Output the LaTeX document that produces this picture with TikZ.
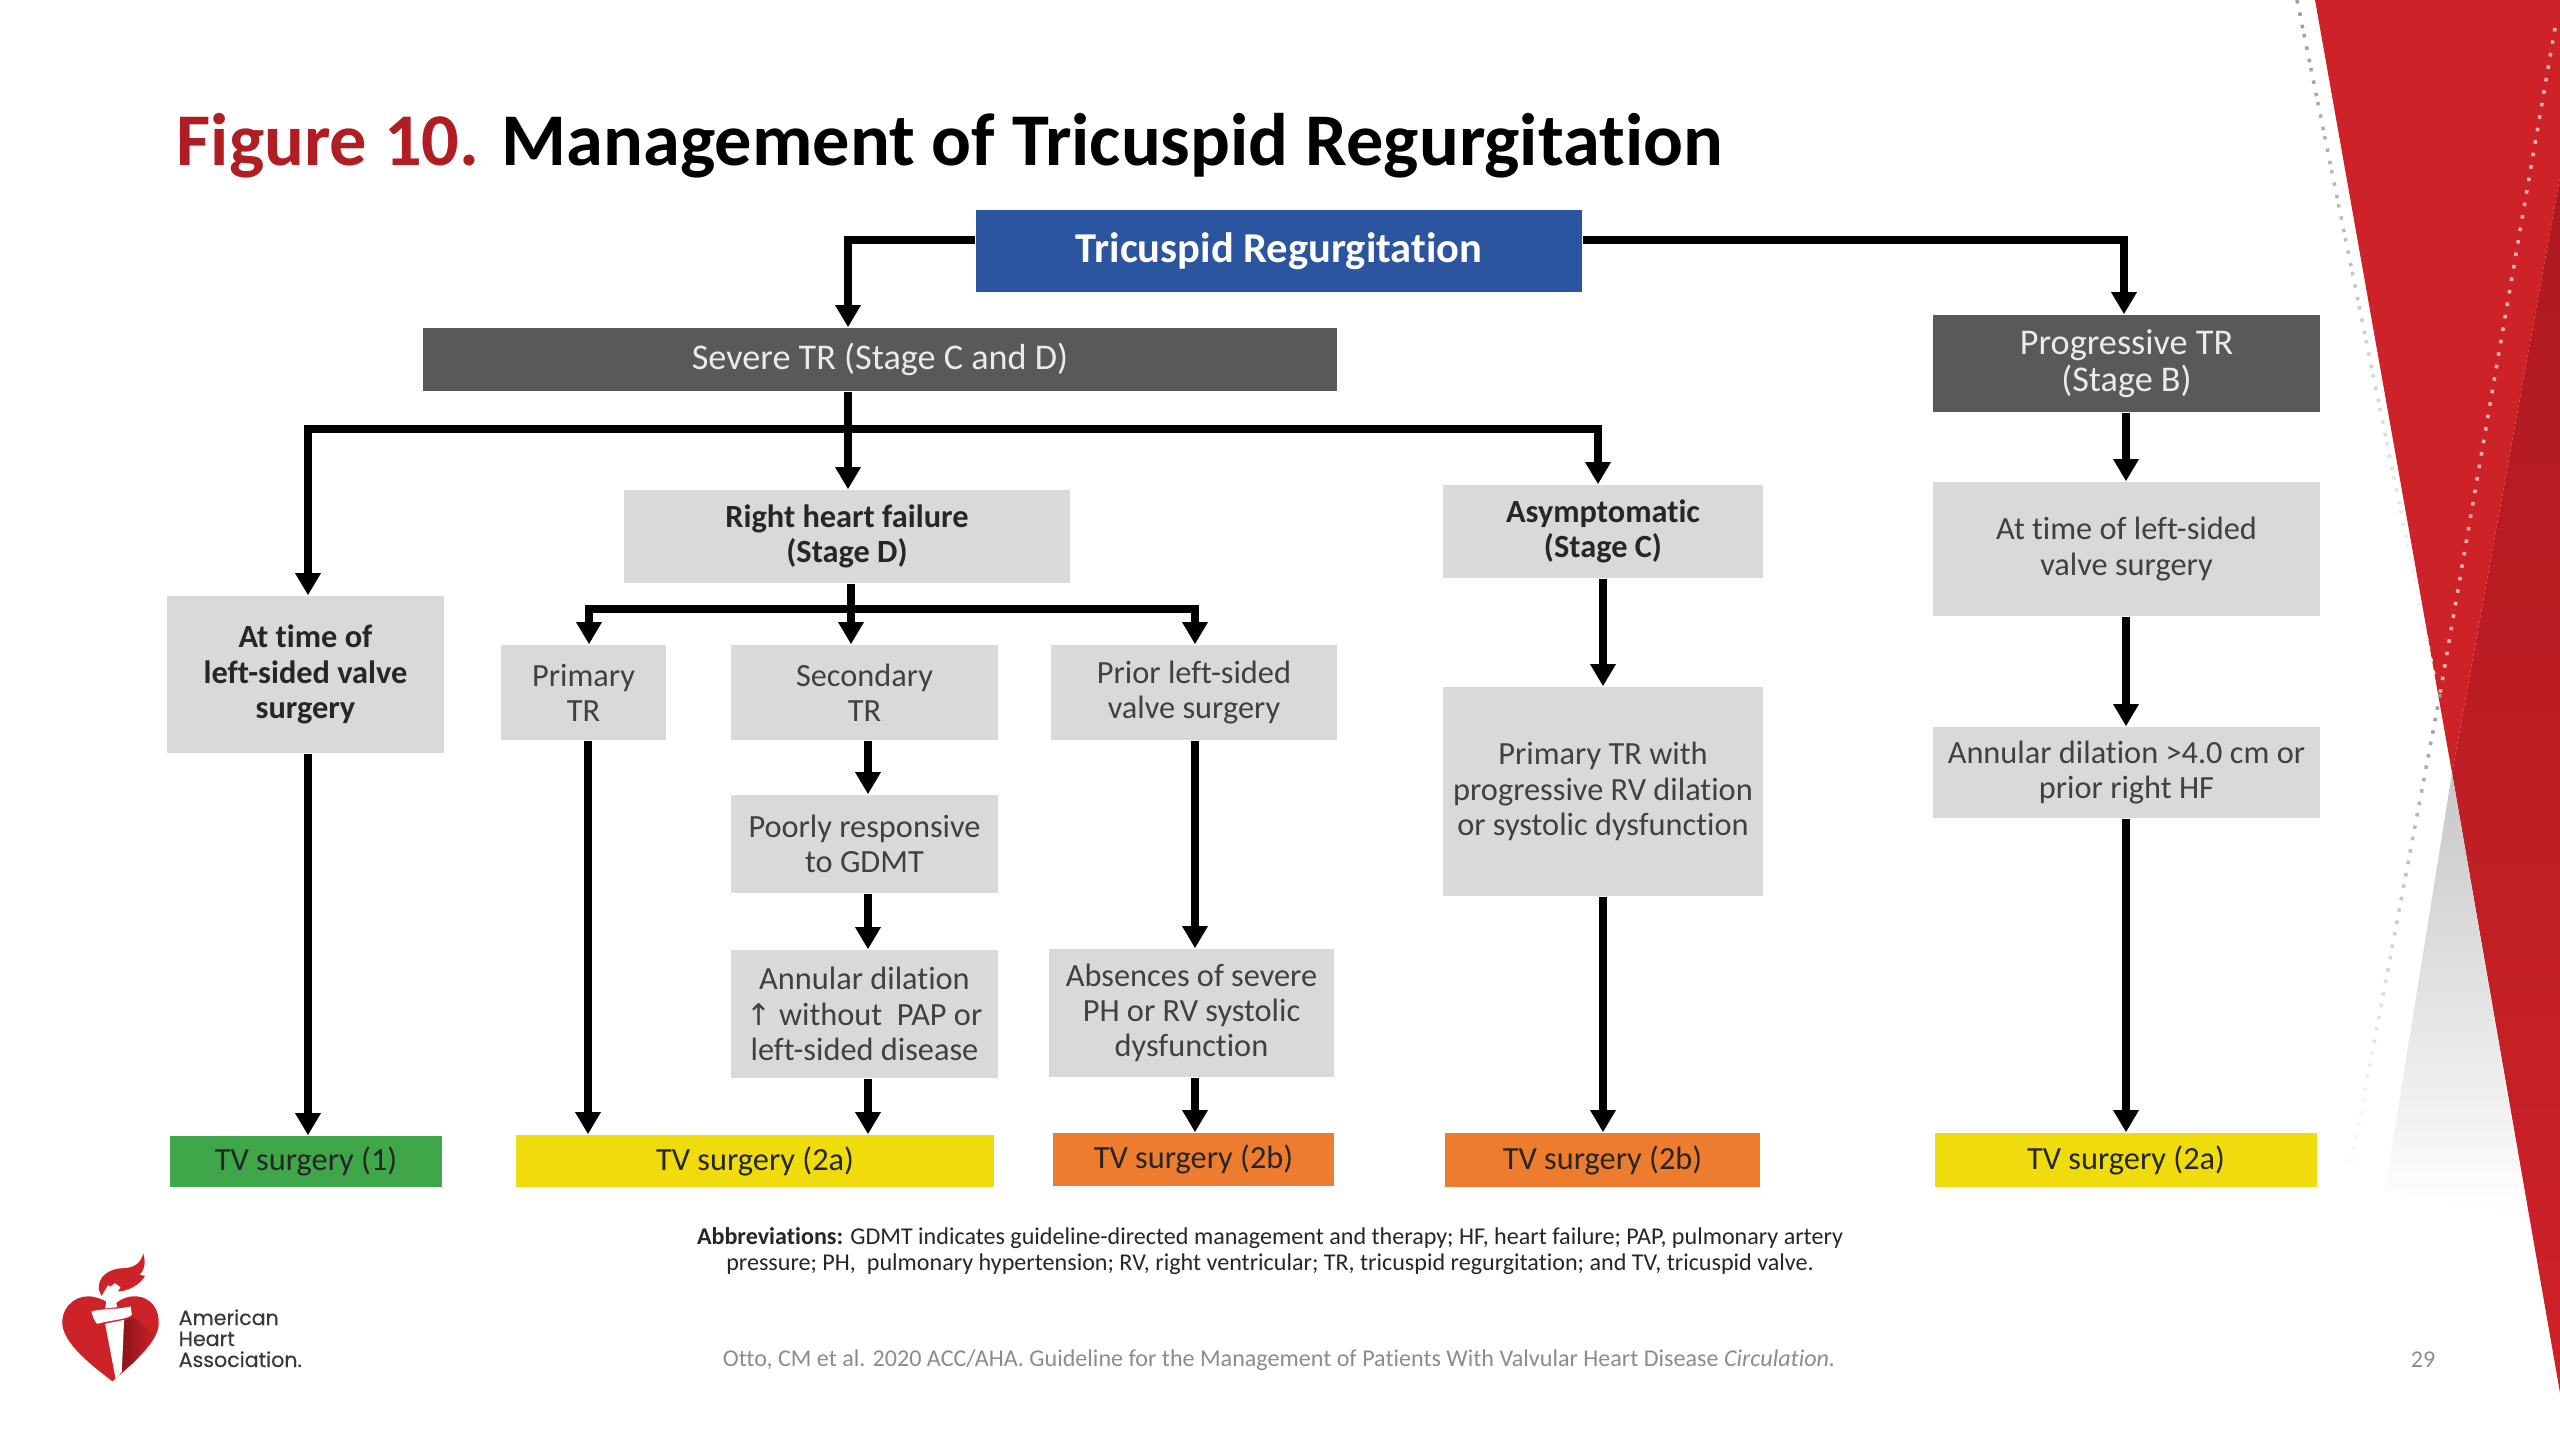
\documentclass[tikz,border=0pt]{standalone}
\usepackage{fontspec}
\setmainfont[Ligatures=NoCommon]{Carlito}
\newfontfamily\logofont[FakeBold=0.3]{Poppins}
\newfontfamily\symfont{DejaVu Sans}
\usetikzlibrary{arrows.meta,shadings}
\definecolor{boxgray}{HTML}{D9D9D9}
\definecolor{boxdark}{HTML}{595959}
\definecolor{boxblue}{HTML}{2B559F}
\definecolor{tvgreen}{HTML}{3FA649}
\definecolor{tvyellow}{HTML}{F0DC0C}
\definecolor{tvorange}{HTML}{EE7C2E}
\definecolor{ahared}{HTML}{CE2229}
\definecolor{ahadark}{HTML}{AE1A1F}
\definecolor{titlered}{HTML}{B01E23}
\definecolor{bodytext}{HTML}{404040}
\tikzset{
  boxbase/.style={inner sep=0pt,align=center,font=\fontsize{9.2}{10}\selectfont},
  gbox/.style={boxbase,fill=boxgray,text=bodytext},
  gbold/.style={boxbase,fill=boxgray,text=black!85,font=\fontsize{9.2}{10}\selectfont\bfseries},
  dbox/.style={boxbase,fill=boxdark,text=white!92!black,font=\fontsize{10.3}{10.7}\selectfont},
  tvbox/.style={boxbase,text=black!85},
  conn/.style={line width=2.1pt,draw=black,-{Triangle[width=6.9pt,length=6.3pt]}},
  trunk/.style={line width=2.1pt,draw=black},
}
\newcommand{\bx}[7]{\node[#1,minimum width={(#5-#3)*0.01cm},minimum height={(#6-#4)*0.01cm}] (#2) at ({(#3+#5)/2},{(#4+#6)/2}) {#7};}
\newcommand{\nudge}[1]{\raisebox{-0.45pt}{#1}}
\begin{document}
\begin{tikzpicture}[x=0.01cm,y=-0.01cm]
\useasboundingbox (0,0) rectangle (2560,1440);
\fill[white] (0,0) rectangle (2560,1440);
% decoration
\fill[ahared] (2315,0)--(2560,0)--(2560,177)--(2452,773)--cycle;
\shade[top color=ahadark,middle color=ahadark,bottom color=ahared] (2560,177)--(2452,773)--(2560,1393)--cycle;
\shade[top color=black!22,bottom color=white] (2452,773)--(2385,1190)--(2528,1215)--cycle;
\foreach \t in {0,1,...,19}{
  \pgfmathsetmacro{\a}{\t/20}\pgfmathsetmacro{\b}{(\t+1)/20}
  \pgfmathsetmacro{\k}{max(4,38-2.0*\t)}
  \draw[line width=1pt,dash pattern=on 1pt off 2.6pt,draw=black!\k!white] ({2297+138*\a},{680*\a}) -- ({2297+138*\b},{680*\b});
  \pgfmathsetmacro{\m}{max(3,38-2.0*\t)}
  \draw[line width=1pt,dash pattern=on 1pt off 2.6pt,draw=black!\m!white] ({2440-90*\a},{694+476*\a}) -- ({2440-90*\b},{694+476*\b});
}
\draw[line width=1pt,dash pattern=on 1pt off 2.6pt,draw=white!65!ahared] (2555,28) -- (2440,694);
% logo
\begin{scope}[shift={(0,1200)},x=0.003333cm,y=-0.003333cm]
\fill[ahared] (338,545) .. controls (280,500) and (185,430) .. (187,365) .. controls (190,310) and (240,280) .. (285,292) .. controls (310,298) and (330,310) .. (337,322) .. controls (350,305) and (380,285) .. (415,290) .. controls (455,295) and (480,330) .. (477,375) .. controls (472,430) and (400,490) .. (338,545) -- cycle;
\shade[left color=ahadark!80!black,right color=ahared] (368,365)--(400,352)--(468,405)--(400,490)--(368,515)--cycle;
\fill[ahared] (430,160) .. controls (442,195) and (428,215) .. (420,225) -- (436,228) .. controls (420,255) and (385,275) .. (350,275) -- (325,255) -- (305,288) -- (297,270) .. controls (292,230) and (330,205) .. (370,205) .. controls (400,205) and (425,190) .. (430,160) -- cycle;
\fill[white] (345,250) -- (362,262) -- (345,290) -- (352,322) -- (316,326) -- (322,290) -- (330,262) -- cycle;
\fill[white] (275,335) .. controls (310,325) and (350,330) .. (393,320) -- (396,345) .. controls (385,358) and (340,360) .. (292,372) .. controls (283,362) and (278,350) .. (275,335) -- cycle;
\fill[white] (316,372) -- (373,360) -- (366,515) -- (348,540) -- cycle;
\end{scope}
\node[anchor=base west,inner sep=0pt,font=\logofont\fontsize{5.85}{6}\selectfont,text=black!78] (lgA) at (178,1325) {American};
\node[anchor=base west,inner sep=0pt,font=\logofont\fontsize{5.85}{6}\selectfont,text=black!78] (lgB) at (178,1346) {Heart};
\node[anchor=base west,inner sep=0pt,font=\logofont\fontsize{5.85}{6}\selectfont,text=black!78] (lgC) at (178,1367) {Association.};
% title
\node[anchor=base west,inner sep=0pt,font=\fontsize{21.15}{22}\selectfont\bfseries] (title) at (176,166) {\textcolor{titlered}{Figure 10.} Management of Tricuspid Regurgitation};
% boxes
\bx{boxbase,fill=boxblue,text=white,font=\fontsize{12.1}{13}\selectfont\bfseries}{tr}{976}{210}{1582}{292}{\nudge{Tricuspid Regurgitation}}
\bx{dbox}{sev}{423}{328}{1337}{391}{\nudge{Severe TR (Stage C and D)}}
\bx{dbox}{prog}{1933}{315}{2320}{412}{Progressive TR\\(Stage B)}
\bx{gbold}{rhf}{624}{490}{1070}{583}{Right heart failure\\(Stage D)}
\bx{gbold}{asym}{1443}{485}{1763}{578}{Asymptomatic\\(Stage C)}
\bx{gbold}{atl}{167}{596}{444}{753}{At time of\\left-sided valve\\surgery}
\bx{gbox}{pri}{501}{645}{666}{740}{Primary\\TR}
\bx{gbox}{sec}{731}{645}{998}{740}{Secondary\\TR}
\bx{gbox}{prv}{1051}{645}{1337}{740}{Prior left-sided\\valve surgery}
\bx{gbox}{poor}{731}{795}{998}{893}{Poorly responsive\\to GDMT}
\bx{gbox}{ann}{731}{950}{998}{1078}{Annular dilation\\{\symfont\fontsize{8.5}{9}\selectfont↑} without\ \ PAP or\\left-sided disease}
\bx{gbox}{abs}{1049}{949}{1334}{1077}{Absences of severe\\PH or RV systolic\\dysfunction}
\bx{gbox}{ptr}{1443}{687}{1763}{896}{Primary TR with\\progressive RV dilation\\or systolic dysfunction}
\bx{gbox}{ltm}{1933}{482}{2320}{616}{At time of left-sided\\valve surgery}
\bx{gbox}{ad4}{1933}{727}{2320}{818}{Annular dilation >4.0 cm or\\prior right HF}
\bx{tvbox,fill=tvgreen}{tva}{170}{1136}{442}{1187}{\nudge{TV surgery (1)}}
\bx{tvbox,fill=tvyellow}{tvb}{516}{1135}{994}{1187}{\nudge{TV surgery (2a)}}
\bx{tvbox,fill=tvorange}{tvc}{1053}{1133}{1334}{1186}{\nudge{TV surgery (2b)}}
\bx{tvbox,fill=tvorange}{tvd}{1445}{1133}{1760}{1187}{\nudge{TV surgery (2b)}}
\bx{tvbox,fill=tvyellow}{tve}{1935}{1133}{2317}{1187}{\nudge{TV surgery (2a)}}
% connector columns and junctions
\coordinate (xA) at (308,0);
\coordinate (xB) at (589,0);
\coordinate (xC) at (848,0);
\coordinate (xD) at (851,0);
\coordinate (xE) at (868,0);
\coordinate (xF) at (1195,0);
\coordinate (xG) at (1598,0);
\coordinate (xH) at (1603,0);
\coordinate (xI) at (2124,0);
\coordinate (xJ) at (2126,0);
\coordinate (yT) at (0,240);
\coordinate (jA) at (848,429);
\coordinate (jB) at (851,609);
\coordinate (xL) at (588,0);
% connectors
\draw[conn] (tr.west |- yT) -| (xC |- sev.north);
\draw[conn] (tr.east |- yT) -| (xI |- prog.north);
\draw[conn] (xC |- sev.south) -- (xC |- rhf.north);
\draw[conn] (jA) -| (xA |- atl.north);
\draw[conn] (jA) -| (xG |- asym.north);
\draw[trunk] (xD |- rhf.south) -- (jB);
\draw[conn] (jB) -| (xB |- pri.north);
\draw[conn] (jB) -- (xD |- sec.north);
\draw[conn] (jB) -| (xF |- prv.north);
\draw[conn] (xA |- atl.south) -- (xA |- tva.north);
\draw[conn] (xL |- pri.south) -- (xL |- tvb.north);
\draw[conn] (xE |- sec.south) -- (xE |- poor.north);
\draw[conn] (xE |- poor.south) -- (xE |- ann.north);
\draw[conn] (xE |- ann.south) -- (xE |- tvb.north);
\draw[conn] (xF |- prv.south) -- (xF |- abs.north);
\draw[conn] (xF |- abs.south) -- (xF |- tvc.north);
\draw[conn] (xH |- asym.south) -- (xH |- ptr.north);
\draw[conn] (xH |- ptr.south) -- (xH |- tvd.north);
\draw[conn] (xJ |- prog.south) -- (xJ |- ltm.north);
\draw[conn] (xJ |- ltm.south) -- (xJ |- ad4.north);
\draw[conn] (xJ |- ad4.south) -- (xJ |- tve.north);
% notes
\node[inner sep=0pt,align=center,text=black!85,font=\fontsize{6.85}{7.4}\selectfont] (abbr) at (1270,1251) {\textbf{Abbreviations:} GDMT indicates guideline-directed management and therapy; HF, heart failure; PAP, pulmonary artery\\pressure; PH,\ \ pulmonary hypertension; RV, right ventricular; TR, tricuspid regurgitation; and TV, tricuspid valve.};
\node[inner sep=0pt,text=black!45,font=\fontsize{6.85}{7.4}\selectfont] (foot) at (1279,1360) {Otto, CM et al. 2020 ACC/AHA. Guideline for the Management of Patients With Valvular Heart Disease \textit{Circulation.}};
\node[inner sep=0pt,text=black!45,font=\fontsize{6.85}{7.4}\selectfont] (pg) at (2423,1360) {29};
\end{tikzpicture}
\end{document}
